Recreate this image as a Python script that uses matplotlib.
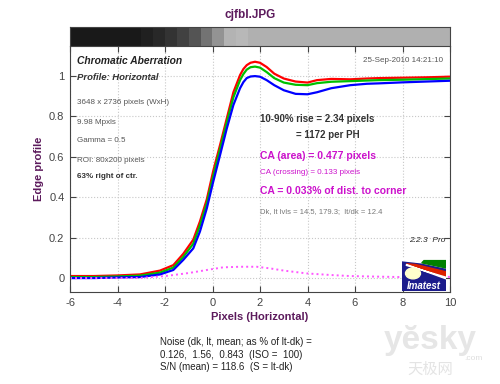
import numpy as np
import matplotlib
matplotlib.use("Agg")
import matplotlib.pyplot as plt
from matplotlib.patches import Polygon, Circle, Rectangle

plt.rcParams['font.family'] = ['Liberation Sans', 'DejaVu Sans', 'Noto Sans CJK SC']
plt.rcParams['axes.unicode_minus'] = False

# edge profiles (pixels vs normalized level)
x_pix = [-6, -5, -4, -3.05, -2.21, -1.65, -1.23, -0.81, -0.53, -0.24, 0.03, 0.32, 0.6, 0.88,
         1.16, 1.3, 1.44, 1.6, 1.79, 2.0, 2.28, 2.6, 3.0, 3.5, 4.0, 4.4, 5.0, 5.8, 6.5, 7.0,
         8.0, 9.0, 10.0]
red = [0.01, 0.01, 0.013, 0.018, 0.037, 0.064, 0.12, 0.19, 0.28, 0.39, 0.53, 0.66, 0.79, 0.92,
       1.005, 1.035, 1.054, 1.066, 1.071, 1.066, 1.045, 1.012, 0.988, 0.973, 0.968, 0.98, 0.986,
       0.984, 0.988, 0.99, 0.992, 0.994, 0.997]
green = [0.005, 0.005, 0.008, 0.012, 0.027, 0.052, 0.105, 0.17, 0.26, 0.37, 0.505, 0.64, 0.77,
         0.895, 0.98, 1.01, 1.032, 1.044, 1.047, 1.042, 1.02, 0.99, 0.968, 0.957, 0.955, 0.965,
         0.972, 0.975, 0.978, 0.98, 0.982, 0.985, 0.988]
blue = [0.0, 0.0, 0.003, 0.005, 0.018, 0.04, 0.09, 0.147, 0.23, 0.345, 0.477, 0.61, 0.74, 0.857,
        0.94, 0.97, 0.99, 0.998, 1.0, 0.997, 0.98, 0.955, 0.93, 0.912, 0.91, 0.92, 0.94, 0.955,
        0.962, 0.964, 0.969, 0.973, 0.977]

x_ca = [-6, -5, -4, -3, -2, -1.65, -1, -0.24, 0.44, 1.16, 1.86, 2.42, 3.0, 3.97, 5.0, 5.79,
        7.0, 7.9, 9.0, 10]
ca = [0.0, 0.0, 0.0, 0.001, 0.01, 0.015, 0.025, 0.04, 0.053, 0.056, 0.056, 0.048, 0.037, 0.023,
      0.015, 0.01, 0.007, 0.005, 0.004, 0.006]

# gray strip above the plot, one level per half pixel
strip = [0.10, 0.10, 0.10, 0.10, 0.10, 0.10, 0.13, 0.16, 0.20, 0.26, 0.33, 0.45, 0.58, 0.70,
         0.72, 0.69, 0.69, 0.69, 0.69, 0.69, 0.69, 0.69, 0.69, 0.69, 0.69, 0.69, 0.69, 0.69,
         0.69, 0.69, 0.69, 0.69]

xticks = [-6, -4, -2, 0, 2, 4, 6, 8, 10]
yticks = [0, 0.2, 0.4, 0.6, 0.8, 1]
ytick_labels = ['0', '0.2', '0.4', '0.6', '0.8', '1']

W, H = 500, 384
purple = '#5c1a5c'
magenta = '#cc11cc'


def fx(px):
    return px / W


def fy(py):
    return 1 - py / H


fig = plt.figure(figsize=(5, 3.84), dpi=100)

ax = fig.add_axes([fx(70), fy(292), fx(380), (292 - 46) / H])
ax.plot(x_pix, red, color='#ff0000', lw=1.6)
ax.plot(x_pix, green, color='#00c000', lw=1.6)
ax.plot(x_pix, blue, color='#0000ff', lw=1.6)
ax.plot(x_ca, ca, color='#ff55ff', lw=1.4, ls=(0, (1, 1.6)))

ax.set_xlim(-6, 10)
ax.set_ylim(-0.069, 1.149)
ax.set_xticks(xticks)
ax.set_yticks(yticks)
ax.set_yticklabels(ytick_labels)
ax.grid(True, color='#c8c8c8', ls=':', lw=0.8)
ax.tick_params(direction='in', length=4, width=0.8, top=True, right=True,
               labelsize=8, labelcolor='#444444', color='#444444', pad=4)
for s in ax.spines.values():
    s.set_color('#444444')
    s.set_linewidth(0.8)
ax.spines['top'].set_visible(False)
ax.set_xlabel('Pixels (Horizontal)', fontsize=8, fontweight='bold', color=purple, labelpad=3)
ax.set_ylabel('Edge profile', fontsize=8, fontweight='bold', color=purple, labelpad=4)

bar = fig.add_axes([fx(70), fy(46), fx(380), 19 / H])
bar.imshow([strip], cmap='gray', vmin=0, vmax=1, aspect='auto',
           extent=[-6, 10, 0, 1], interpolation='nearest')
bar.set_xticks([])
bar.set_yticks([])
for s in bar.spines.values():
    s.set_color('#444444')
    s.set_linewidth(0.8)

fig.text(0.5, fy(15), 'cjfbl.JPG', ha='center', va='center', fontsize=8.5,
         fontweight='bold', color=purple)


def t(px, py, s, **kw):
    kw.setdefault('va', 'center')
    fig.text(fx(px), fy(py), s, **kw)


t(77, 61, 'Chromatic Aberration', fontsize=7.4, fontweight='bold', style='italic', color='#222222')
t(77, 78, 'Profile: Horizontal', fontsize=6.8, fontweight='bold', style='italic', color='#333333')
t(77, 103, '3648 x 2736 pixels (WxH)', fontsize=5.8, color='#555555')
t(77, 122, '9.98 Mpxls', fontsize=5.8, color='#555555')
t(77, 141, 'Gamma = 0.5', fontsize=5.8, color='#555555')
t(77, 160, 'ROI: 80x200 pixels', fontsize=5.8, color='#555555')
t(77, 177, '63% right of ctr.', fontsize=5.8, fontweight='bold', color='#333333')
t(443, 61, '25-Sep-2010 14:21:10', fontsize=5.8, color='#555555', ha='right')

t(260, 119, '10-90% rise = 2.34 pixels', fontsize=7, fontweight='bold', color='#333333')
t(296, 135, '= 1172 per PH', fontsize=7, fontweight='bold', color='#333333')
t(260, 156, 'CA (area) = 0.477 pixels', fontsize=7.5, fontweight='bold', color=magenta)
t(260, 173, 'CA (crossing) = 0.133 pixels', fontsize=5.8, color=magenta)
t(260, 191, 'CA = 0.033% of dist. to corner', fontsize=7.5, fontweight='bold', color=magenta)
t(260, 212, 'Dk, lt lvls = 14.5, 179.3;  lt/dk = 12.4', fontsize=5.5, color='#777777')
t(445, 240, '2.2.3  Pro', fontsize=6, style='italic', color='#222222', ha='right')

t(160, 342, 'Noise (dk, lt, mean; as % of lt-dk) =', fontsize=7, color='#222222')
t(160, 355, '0.126,  1.56,  0.843  (ISO =  100)', fontsize=7, color='#222222')
t(160, 367, 'S/N (mean) = 118.6  (S = lt-dk)', fontsize=7, color='#222222')

# watermark
t(430, 340, 'yĕsky', fontsize=24, fontweight='bold', color='#e6e6e6', ha='center', zorder=0)
t(430, 369, '天极网', fontsize=11, color='#e4e4e4', ha='center',
  family=['Noto Sans CJK SC', 'DejaVu Sans'])
t(473, 358, '.com', fontsize=6, color='#dddddd', ha='center')

# Imatest logo
logo = fig.add_axes([fx(402), fy(291), fx(44), 32 / H])
logo.set_xlim(0, 1)
logo.set_ylim(0, 1)
logo.axis('off')
logo.add_patch(Rectangle((0, 0), 1, 1, color='#1c1c8c'))
logo.add_patch(Polygon([(0, 1), (1, 1), (1, 0.72), (0.45, 0.88), (0, 0.95)], color='white'))
logo.add_patch(Polygon([(0.45, 0.88), (1, 0.72), (1, 0.95), (0.5, 0.95)], color='#008000'))
logo.add_patch(Polygon([(0.1, 0.85), (1, 0.45), (1, 0.6), (0.3, 0.83)], color='#dd2200'))
logo.add_patch(Polygon([(0.1, 0.83), (1, 0.38), (1, 0.43), (0.1, 0.8)], color='white'))
logo.add_patch(Circle((0.25, 0.55), 0.17, color='#ffffcc', transform=logo.transData))
logo.text(0.5, 0.15, 'Imatest', ha='center', va='center', fontsize=7,
          fontweight='bold', style='italic', color='white')

fig.savefig('out.png', dpi=100)
